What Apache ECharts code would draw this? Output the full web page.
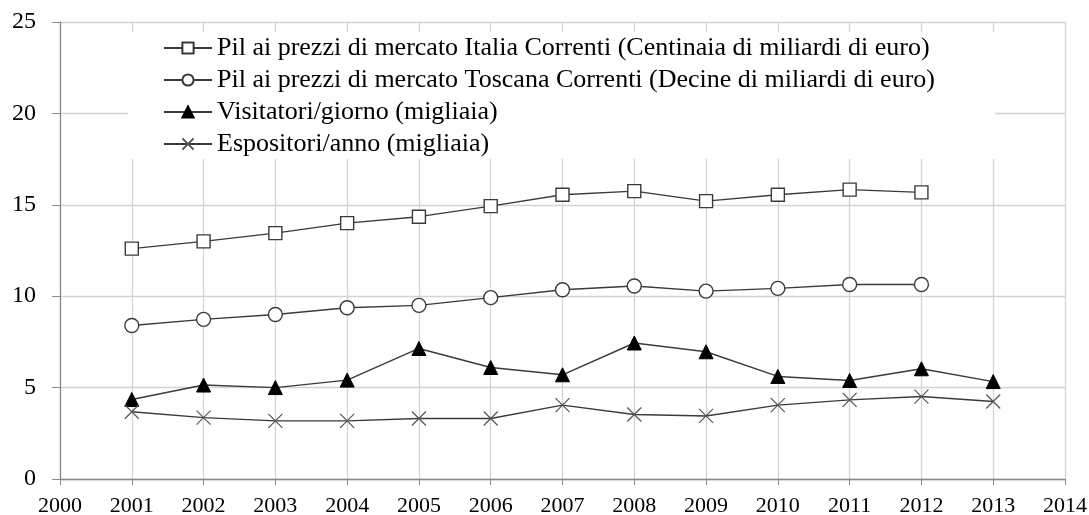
<!DOCTYPE html>
<html>
<head>
<meta charset="utf-8">
<script src="https://cdn.jsdelivr.net/npm/echarts@6/dist/echarts.min.js"></script>
<style>
  html, body { margin: 0; padding: 0; background: #fff; }
  #main { width: 1089px; height: 515px; }
</style>
</head>
<body>
<div id="main"></div>
<script>
var years = [2001, 2002, 2003, 2004, 2005, 2006, 2007, 2008, 2009, 2010, 2011, 2012, 2013];
var pilItalia = [12.6, 13.0, 13.45, 14.0, 14.35, 14.93, 15.55, 15.75, 15.2, 15.55, 15.83, 15.68];
var pilToscana = [8.4, 8.73, 9.0, 9.37, 9.5, 9.92, 10.35, 10.56, 10.28, 10.43, 10.64, 10.64];
var visitatori = [4.35, 5.14, 5.0, 5.41, 7.14, 6.1, 5.7, 7.44, 6.96, 5.61, 5.39, 6.03, 5.33];
var espositori = [3.68, 3.36, 3.18, 3.18, 3.31, 3.31, 4.04, 3.53, 3.45, 4.04, 4.33, 4.51, 4.24];
var names = [
  'Pil ai prezzi di mercato Italia Correnti (Centinaia di miliardi di euro)',
  'Pil ai prezzi di mercato Toscana Correnti (Decine di miliardi di euro)',
  'Visitatori/giorno (migliaia)',
  'Espositori/anno (migliaia)'
];

function pairs(vals) {
  return vals.map(function (v, i) { return [years[i], v]; });
}

var chart = echarts.init(document.getElementById('main'));
var font = '"Liberation Serif", "Times New Roman", serif';
var lineCol = '#3a3a3a';

var base = {
  type: 'line',
  symbolSize: 13,
  lineStyle: { color: lineCol, width: 1.4 },
  emphasis: { disabled: true },
  z: 3
};

var option = {
  animation: false,
  grid: { left: 60, right: 24, top: 22, bottom: 36, outerBoundsMode: 'none' },
  legend: {
    orient: 'vertical',
    left: 128,
    top: 32,
    backgroundColor: '#fff',
    padding: [3, 60, 2, 35],
    itemWidth: 48,
    itemHeight: 14,
    itemGap: 6,
    textStyle: { fontFamily: font, fontSize: 26, color: '#000', lineHeight: 25 },
    data: names,
    z: 10
  },
  xAxis: {
    type: 'value',
    min: 2000,
    max: 2014,
    interval: 1,
    axisLine: { lineStyle: { color: '#8a8a8a', width: 1.3 } },
    axisTick: { show: true, length: 6, lineStyle: { color: '#8a8a8a' } },
    axisLabel: {
      fontFamily: font, fontSize: 22, color: '#000', margin: 16,
      formatter: function (v) { return String(v); }
    },
    splitLine: { show: true, lineStyle: { color: '#d4d4d4', width: 1.3 } }
  },
  yAxis: {
    type: 'value',
    min: 0,
    max: 25,
    interval: 5,
    axisLine: { show: true, lineStyle: { color: '#8a8a8a', width: 1.3 } },
    axisTick: { show: true, length: 8, lineStyle: { color: '#8a8a8a' } },
    axisLabel: { fontFamily: font, fontSize: 24, color: '#000', margin: 24 },
    splitLine: { show: true, lineStyle: { color: '#d4d4d4', width: 1.3 } }
  },
  series: [
    Object.assign({}, base, {
      name: names[0],
      data: pairs(pilItalia),
      symbol: 'rect',
      itemStyle: { color: '#fff', borderColor: lineCol, borderWidth: 1.4 }
    }),
    Object.assign({}, base, {
      name: names[1],
      data: pairs(pilToscana),
      symbol: 'circle',
      symbolSize: 14,
      itemStyle: { color: '#fff', borderColor: lineCol, borderWidth: 1.4 }
    }),
    Object.assign({}, base, {
      name: names[2],
      data: pairs(visitatori),
      symbol: 'triangle',
      symbolSize: 14,
      itemStyle: { color: '#000', borderColor: '#000', borderWidth: 1 }
    }),
    Object.assign({}, base, {
      name: names[3],
      data: pairs(espositori),
      symbol: 'path://M0,0L10,10M10,0L0,10',
      symbolSize: 14,
      itemStyle: { color: 'none', borderColor: '#555', borderWidth: 1.2 }
    })
  ]
};

chart.setOption(option);
</script>
</body>
</html>
